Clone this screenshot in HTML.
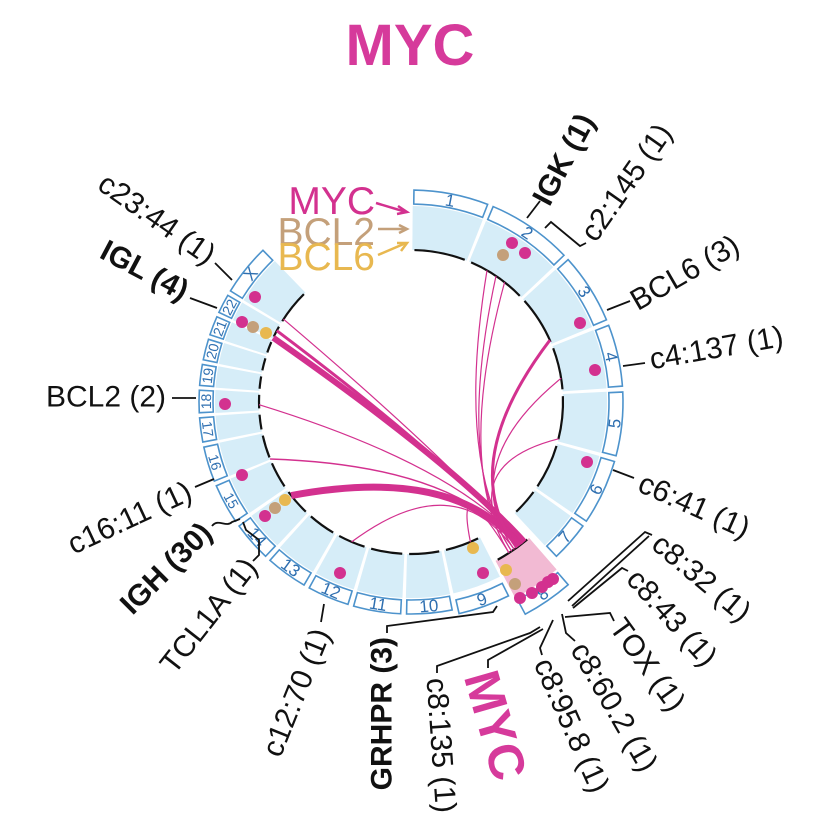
<!DOCTYPE html>
<html><head><meta charset="utf-8"><style>
html,body{margin:0;padding:0;background:#fff;}
svg{display:block;font-family:"Liberation Sans",sans-serif;}
</style></head><body>
<svg id="s" width="831" height="839" viewBox="0 0 831 839" xmlns="http://www.w3.org/2000/svg">
<text x="410" y="65" text-anchor="middle" font-size="58" font-weight="bold" fill="#d63a9b">MYC</text>
<g id="g"></g>
<g font-size="39" text-anchor="end">
<text x="375" y="214" fill="#d3318f">MYC</text>
<text x="375" y="245" fill="#c4a07a">BCL2</text>
<text x="375" y="270" fill="#e8b850">BCL6</text>
</g>
<g stroke-width="2.5" fill="none">
<path d="M376 203 L406 212" stroke="#d3318f"/><path d="M398 206 L407 212 L397 214" stroke="#d3318f"/>
<path d="M378 229 L406 229" stroke="#c4a07a"/><path d="M399 225 L407 229 L399 233" stroke="#c4a07a"/>
<path d="M378 255 L406 243" stroke="#e8b850"/><path d="M397 243 L407 243 L401 251" stroke="#e8b850"/>
</g>
<g id="lab" font-size="30" fill="#111"></g>
<g stroke="#111" stroke-width="1.8" fill="none">
<path d="M215 263 L232 280"/>
<path d="M190 298 L217 308"/>
<path d="M172 398 L196 398"/>
<path d="M195 487 L214 479"/>
<path d="M212 526 C218 518 226 528 232 522 L240 519"/>
<path d="M253 561 L259 555 L259 540 L246 530 L243 522"/>
<path d="M324 604 L321 622"/>
<path d="M497 606 L493 612 L387 626 L387 633"/>
<path d="M540 627 L530 633 L437 666 L437 673"/>
<path d="M543 629 L488 660 L488 668"/>
<path d="M553 620 L540 648 L542 655"/>
<path d="M562 614 L566 633 L575 641"/>
<path d="M565 617 L610 613 L614 621"/>
<path d="M573 608 L622 568 L628 571"/>
<path d="M568 601 L645 532 L652 535"/>
<path d="M572 606 L649 536"/>
<path d="M613 470 L634 478"/>
<path d="M623 366 L645 363"/>
<path d="M607 310 L630 301"/>
<path d="M545 228 L551 222 L580 246 L586 243"/>
<path d="M527 218 L540 201"/>
</g>
</svg>
<script>
var cx=411,cy=402,NS="http://www.w3.org/2000/svg",g=document.getElementById("g");
function P(r,a){a=a*Math.PI/180;return [cx+r*Math.sin(a),cy-r*Math.cos(a)];}
function el(t,at,par){var e=document.createElementNS(NS,t);for(var k in at)e.setAttribute(k,at[k]);(par||g).appendChild(e);return e;}
function sector(r1,r2,a1,a2){var p1=P(r2,a1),p2=P(r2,a2),p3=P(r1,a2),p4=P(r1,a1),l=(a2-a1)>180?1:0;
return "M"+p1+" A"+r2+" "+r2+" 0 "+l+" 1 "+p2+" L"+p3+" A"+r1+" "+r1+" 0 "+l+" 0 "+p4+"Z";}
function arc(r,a1,a2){var p1=P(r,a1),p2=P(r,a2);return "M"+p1+" A"+r+" "+r+" 0 0 1 "+p2;}
var ch=[["1",0.5,21.5],["2",22.5,46.5],["3",47.5,67.5],["4",68.5,86],["5",87,105],["6",106,124.5],["7",125.5,137],["8",139,152],["9",153,167.5],["10",168.5,181.5],["11",182.5,196],["12",197,209],["13",210,222],["14",223,234.5],["15",235.5,247],["16",247.8,258],["17",258.8,266],["18",266.8,273.5],["19",274.2,280.5],["20",281.2,287.5],["21",288.2,294],["22",294.7,300.5],["X",301.3,316]];
ch.forEach(function(c){
 var a1=c[1],a2=c[2],m=(a1+a2)/2,is8=c[0]=="8";
 var ri=is8?180:152,ro=is8?222:196,b1=is8?225:198,b2=is8?241:212;
 if(c[0]=="9"){b1=203;b2=217;}
 el("path",{d:sector(ri,ro,a1,a2),fill:is8?"#f2bad3":"#d6edf8"});
 el("path",{d:sector(b1,b2,a1+0.3,a2-0.3),fill:"#fff",stroke:"#4d93cc","stroke-width":1.6});
 el("path",{d:arc(ri,a1+0.8,a2-0.8),fill:"none",stroke:"#111","stroke-width":2.2});
 var p=P((b1+b2)/2,m),rot=(m>90&&m<270)?m-180:m;
 var fs=(m>234&&m<301)?14:17;
 var t=el("text",{x:p[0],y:p[1],fill:"#2f6fb0","text-anchor":"middle","dominant-baseline":"central",transform:"rotate("+rot+" "+p[0]+" "+p[1]+")",style:"font-size:"+fs+"px"});
 t.textContent=c[0];
});
var M="#d3318f";
var links=[[295,141,6],[298,142,3],[303,142,1.2],[232,143,7],[269,142,1.2],[248,143,1.5],[203,145,1.2],[157,147,1.2],[30,145,1.2],[34,146,1.2],[38,147,1.2],[66,144,3],[81,145,1.2],[104,146,1.2]];
links.forEach(function(l){var a=P(152,l[0]),b=P(180,l[1]);var C=[455,465];
 el("path",{d:"M"+a+" Q"+C+" "+b,fill:"none",stroke:M,"stroke-width":l[2]});});
var cols={m:"#d3318f",t:"#c4a07a",y:"#e8b850"};
[[512,243,"m"],[525,253,"m"],[503,255,"t"],[580,323,"m"],[595,370,"m"],[587,462,"m"],
[520,598,"m"],[532,593,"m"],[542,587,"m"],[548,582,"m"],[553,579,"m"],[506,570,"y"],[515,584,"t"],
[483,573,"m"],[473,548,"y"],[340,573,"m"],[265,516,"m"],[275,508,"t"],[285,500,"y"],[242,475,"m"],[225,404,"m"],
[242,322,"m"],[253,327,"t"],[266,333,"y"],[255,297,"m"]].forEach(function(d){el("circle",{cx:d[0],cy:d[1],r:6,fill:cols[d[2]]});});
var L=document.getElementById("lab");
[["c23:44 (1)",212,258,35,"end"],["IGL (4)",186,293,28,"end",1],["BCL2 (2)",166,397,0,"end"],["c16:11 (1)",190,490,-25,"end"],
["IGH (30)",207,528,-45,"end",1],["TCL1A (1)",251,562,-52,"end"],["c12:70 (1)",322,630,-68,"end"],["GRHPR (3)",382,637,-90,"end",1],
["c8:135 (1)",436,678,86,"start"],["MYC",480,672,74,"start",1,50,"#d63a9b"],["c8:95.8 (1)",542,660,66,"start"],["c8:60.2 (1)",578,645,60,"start"],
["TOX (1)",616,622,54,"start"],["c8:43 (1)",632,574,48,"start"],["c8:32 (1)",656,540,40,"start"],["c6:41 (1)",640,482,24,"start"],
["c4:137 (1)",650,360,-10,"start"],["BCL6 (3)",633,303,-30,"start"],["c2:145 (1)",588,238,-55,"start"],["IGK (1)",541,203,-62,"start",1]
].forEach(function(d){var t=el("text",{x:d[1],y:d[2],"text-anchor":d[4],"dominant-baseline":"central",transform:"rotate("+d[3]+" "+d[1]+" "+d[2]+")"},L);
 if(d[5])t.setAttribute("font-weight","bold");if(d[6])t.setAttribute("font-size",d[6]);if(d[7])t.setAttribute("fill",d[7]);t.textContent=d[0];});
</script>
</body></html>
